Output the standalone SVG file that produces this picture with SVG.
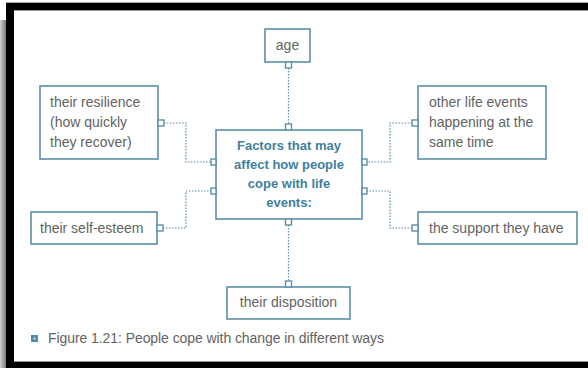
<svg xmlns="http://www.w3.org/2000/svg" width="588" height="368" viewBox="0 0 588 368">
<defs>
<linearGradient id="lg" x1="0" y1="0" x2="1" y2="0">
<stop offset="0" stop-color="#d0d0d0"/>
<stop offset="1" stop-color="#7a7a7a"/>
</linearGradient>
</defs>
<style>
.box{fill:#fff;stroke:#5a90a8;stroke-width:1.6}
.tab{fill:#fff;stroke:#5a90a8;stroke-width:1.4}
.con{fill:none;stroke:#5a90a8;stroke-width:1.2;stroke-dasharray:1.5 1.5}
.t{font-family:"Liberation Sans",Arial,sans-serif;font-size:14px;fill:#636363}
.c{font-family:"Liberation Sans",Arial,sans-serif;font-size:13px;font-weight:bold;fill:#3f7f9d;text-anchor:middle}
.m{text-anchor:middle}
</style>
<rect x="0" y="0" width="588" height="368" fill="#fff"/>
<rect x="0" y="20" width="6" height="348" fill="url(#lg)"/>
<rect x="6" y="2" width="582" height="1" fill="#aaa"/>
<rect x="6" y="3" width="582" height="7" fill="#000"/>
<rect x="6" y="3" width="8" height="365" fill="#000"/>
<rect x="6" y="362" width="582" height="6" fill="#000"/>
<rect x="14" y="10" width="574" height="1" fill="#999"/>
<rect x="14" y="361" width="574" height="1" fill="#999"/>

<g id="connectors">
<path class="con" d="M288.5 68 V124"/>
<path class="con" d="M288.5 225 V281"/>
<path class="con" d="M164 123 H186 V162 H211"/>
<path class="con" d="M163 228 H186 V191 H211"/>
<path class="con" d="M412 123 H390 V162 H367"/>
<path class="con" d="M412 228 H390 V191 H367"/>
</g>

<g id="center">
<rect class="box" x="216" y="130" width="146" height="89"/>
<rect class="tab" x="285.5" y="124" width="6" height="6"/>
<rect class="tab" x="285.5" y="219" width="6" height="6"/>
<rect class="tab" x="211" y="159" width="5" height="6"/>
<rect class="tab" x="211" y="188" width="5" height="6"/>
<rect class="tab" x="362" y="159" width="5" height="6"/>
<rect class="tab" x="362" y="188" width="5" height="6"/>
<text class="c" x="289" y="150">Factors that may</text>
<text class="c" x="289" y="169">affect how people</text>
<text class="c" x="289" y="188">cope with life</text>
<text class="c" x="289" y="207">events:</text>
</g>

<g id="age">
<rect class="box" x="265" y="29" width="45" height="33"/>
<rect class="tab" x="285.5" y="62" width="6" height="6"/>
<text class="t m" x="287.5" y="50">age</text>
</g>

<g id="resilience">
<rect class="box" x="40" y="86" width="118" height="73"/>
<rect class="tab" x="158" y="120" width="6" height="6"/>
<text class="t" x="50" y="107">their resilience</text>
<text class="t" x="50" y="127">(how quickly</text>
<text class="t" x="50" y="147">they recover)</text>
</g>

<g id="other-events">
<rect class="box" x="418" y="86" width="128" height="73"/>
<rect class="tab" x="412" y="120" width="6" height="6"/>
<text class="t" x="429" y="107">other life events</text>
<text class="t" x="429" y="127">happening at the</text>
<text class="t" x="429" y="147">same time</text>
</g>

<g id="self-esteem">
<rect class="box" x="31" y="212" width="126" height="32"/>
<rect class="tab" x="157" y="225" width="6" height="6"/>
<text class="t" x="40" y="233">their self-esteem</text>
</g>

<g id="support">
<rect class="box" x="418" y="212" width="159" height="32"/>
<rect class="tab" x="412" y="225" width="6" height="6"/>
<text class="t" x="429" y="233">the support they have</text>
</g>

<g id="disposition">
<rect class="box" x="227" y="287" width="123" height="32"/>
<rect class="tab" x="285.5" y="281" width="6" height="6"/>
<text class="t m" x="288.5" y="307">their disposition</text>
</g>

<g id="caption">
<rect x="31" y="335" width="7" height="7" fill="#4f8ba6"/>
<rect x="33.5" y="337.5" width="2" height="2" fill="#cfe0e8"/>
<text class="t" x="48" y="343" textLength="336">Figure 1.21: People cope with change in different ways</text>
</g>
</svg>
